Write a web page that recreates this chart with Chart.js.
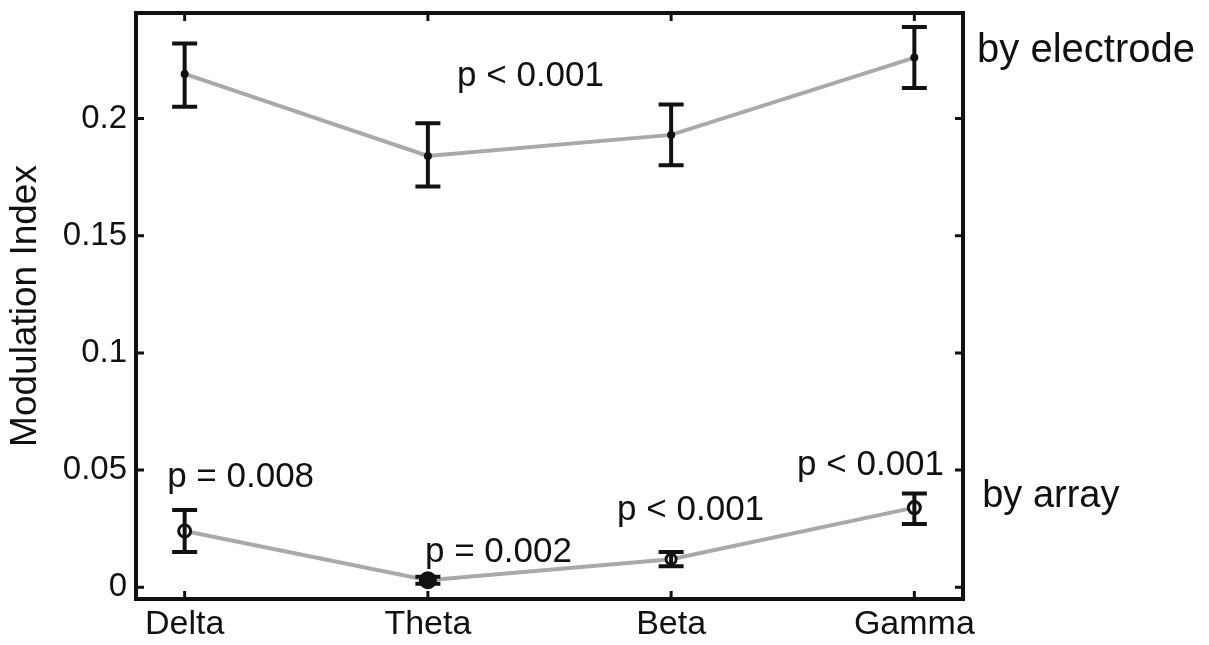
<!DOCTYPE html>
<html>
<head>
<meta charset="utf-8">
<script src="https://cdn.jsdelivr.net/npm/chart.js@4"></script>
<style>
  html, body { margin: 0; padding: 0; background: #fff; }
  #wrap { width: 1209px; height: 645px; }
</style>
</head>
<body>
<div id="wrap"><canvas id="chart"></canvas></div>
<script>
// 周波数帯（x軸カテゴリ）
const bands = ['Delta', 'Theta', 'Beta', 'Gamma'];

// by electrode
const electrodeMean  = [0.219, 0.184, 0.193, 0.226];
const electrodeUpper = [0.232, 0.198, 0.206, 0.239];
const electrodeLower = [0.205, 0.171, 0.180, 0.213];

// by array
const arrayMean  = [0.024, 0.003, 0.012, 0.034];
const arrayUpper = [0.033, 0.0045, 0.015, 0.040];
const arrayLower = [0.015, 0.0015, 0.009, 0.027];

// y軸目盛
const yTicks = [0, 0.05, 0.1, 0.15, 0.2];
const yTickLabels = ['0', '0.05', '0.1', '0.15', '0.2'];

// 注記テキスト（x: カテゴリ位置, y: 値, 左揃え・ベースライン）
const notes = [
  { text: 'p < 0.001',    x: 2.12,  y: 0.2139, size: 35 },
  { text: 'by electrode', x: 4.258, y: 0.2241, size: 40 },
  { text: 'p = 0.008',    x: 0.928, y: 0.0428, size: 35 },
  { text: 'p = 0.002',    x: 1.988, y: 0.0108, size: 35 },
  { text: 'p < 0.001',    x: 2.778, y: 0.0287, size: 35 },
  { text: 'p < 0.001',    x: 3.518, y: 0.0479, size: 35 },
  { text: 'by array',     x: 4.279, y: 0.0343, size: 38 }
];

const FONT = 'Arial, "Liberation Sans", Helvetica, sans-serif';

/**
 * 枠線・内向き目盛・エラーバー・注記を描画
 */
const extrasPlugin = {
  id: 'extras',
  afterDatasetsDraw(chart) {
    const { ctx, chartArea: a, scales: { x, y } } = chart;
    ctx.save();

    // エラーバー
    ctx.strokeStyle = '#111';
    ctx.lineWidth = 4;
    ctx.lineCap = 'butt';
    const capHalf = 12.5;
    const drawErr = (upper, lower) => {
      upper.forEach((u, i) => {
        const px = x.getPixelForValue(i + 1);
        const pu = y.getPixelForValue(u);
        const pl = y.getPixelForValue(lower[i]);
        ctx.beginPath();
        ctx.moveTo(px, pu); ctx.lineTo(px, pl);
        ctx.moveTo(px - capHalf, pu); ctx.lineTo(px + capHalf, pu);
        ctx.moveTo(px - capHalf, pl); ctx.lineTo(px + capHalf, pl);
        ctx.stroke();
      });
    };
    drawErr(electrodeUpper, electrodeLower);
    drawErr(arrayUpper, arrayLower);

    // 枠
    ctx.lineWidth = 4;
    ctx.strokeRect(a.left, a.top, a.right - a.left, a.bottom - a.top);

    // 内向き目盛
    const len = 8;
    ctx.lineWidth = 3;
    ctx.beginPath();
    yTicks.forEach(v => {
      const py = y.getPixelForValue(v);
      ctx.moveTo(a.left, py); ctx.lineTo(a.left + len, py);
      ctx.moveTo(a.right, py); ctx.lineTo(a.right - len, py);
    });
    bands.forEach((b, i) => {
      const px = x.getPixelForValue(i + 1);
      ctx.moveTo(px, a.bottom); ctx.lineTo(px, a.bottom - len);
      ctx.moveTo(px, a.top); ctx.lineTo(px, a.top + len);
    });
    ctx.stroke();

    // 注記
    ctx.fillStyle = '#111';
    ctx.textAlign = 'left';
    ctx.textBaseline = 'alphabetic';
    notes.forEach(n => {
      ctx.font = `${n.size}px ${FONT}`;
      ctx.fillText(n.text, x.getPixelForValue(n.x), y.getPixelForValue(n.y));
    });

    ctx.restore();
  }
};

const ctx = document.getElementById('chart').getContext('2d');
new Chart(ctx, {
  type: 'line',
  data: {
    datasets: [
      {
        label: 'by electrode',
        data: electrodeMean.map((v, i) => ({ x: i + 1, y: v })),
        borderColor: '#a9a9a9',
        borderWidth: 4,
        pointRadius: 4,
        pointBackgroundColor: '#111',
        pointBorderWidth: 0,
        tension: 0
      },
      {
        label: 'by array',
        data: arrayMean.map((v, i) => ({ x: i + 1, y: v })),
        borderColor: '#a9a9a9',
        borderWidth: 4,
        pointRadius: [6, 7.5, 5, 6],
        pointBackgroundColor: ['#fff', '#111', '#fff', '#fff'],
        pointBorderColor: '#111',
        pointBorderWidth: 3,
        tension: 0
      }
    ]
  },
  options: {
    responsive: true,
    maintainAspectRatio: false,
    animation: false,
    layout: { padding: { top: 13, right: 246, left: 0, bottom: 0 } },
    plugins: {
      legend: { display: false },
      tooltip: { enabled: false }
    },
    scales: {
      x: {
        type: 'linear',
        min: 0.8,
        max: 4.2,
        afterBuildTicks: s => { s.ticks = bands.map((b, i) => ({ value: i + 1 })); },
        afterFit: s => { s.height = 46; s.paddingLeft = 0; s.paddingRight = 0; },
        grid: { display: false, drawTicks: false },
        border: { display: false },
        ticks: {
          padding: 5,
          color: '#111',
          font: { family: FONT, size: 34 },
          callback: v => bands[v - 1] || ''
        }
      },
      y: {
        type: 'linear',
        min: -0.005,
        max: 0.245,
        afterBuildTicks: s => { s.ticks = yTicks.map(v => ({ value: v })); },
        afterFit: s => { s.width = 136; s.paddingTop = 0; s.paddingBottom = 0; },
        grid: { display: false, drawTicks: false },
        border: { display: false },
        ticks: {
          padding: 9,
          color: '#111',
          font: { family: FONT, size: 33 },
          callback: v => yTickLabels[yTicks.indexOf(v)] ?? ''
        },
        title: {
          display: true,
          text: 'Modulation Index',
          color: '#111',
          font: { family: FONT, size: 37 },
          padding: { top: 4, bottom: 0 }
        }
      }
    }
  },
  plugins: [extrasPlugin]
});
</script>
</body>
</html>
